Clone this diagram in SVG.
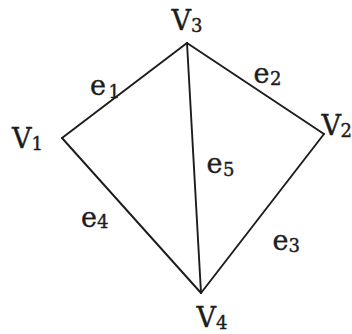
<svg xmlns="http://www.w3.org/2000/svg" width="352" height="334" viewBox="0 0 352 334">
  <style>
    .edge { stroke: #1c1c1c; stroke-width: 1.9; fill: none; stroke-linecap: round; }
    .lbl { font-family: "DejaVu Serif", "Liberation Serif", serif; font-size: 27px; fill: #1c1c1c; stroke: #1c1c1c; stroke-width: 0.4; }
    .sub { font-size: 18px; }
  </style>
  <rect width="352" height="334" fill="#ffffff"/>
  <g id="connectors">
    <g id="e1">
      <line class="edge" x1="187" y1="43" x2="62" y2="138"/>
      <text class="lbl" x="90" y="95">e<tspan class="sub" x="108.5" y="97.5">1</tspan></text>
    </g>
    <g id="e2">
      <line class="edge" x1="187" y1="43" x2="324" y2="134"/>
      <text class="lbl" x="253.5" y="83">e<tspan class="sub" x="270" y="84.5">2</tspan></text>
    </g>
    <g id="e3">
      <line class="edge" x1="324" y1="134" x2="201" y2="293"/>
      <text class="lbl" x="272.5" y="250">e<tspan class="sub" x="288.5" y="251.5">3</tspan></text>
    </g>
    <g id="e4">
      <line class="edge" x1="62" y1="138" x2="201" y2="293"/>
      <text class="lbl" x="81" y="226.5">e<tspan class="sub" x="97" y="227.5">4</tspan></text>
    </g>
    <g id="e5">
      <line class="edge" x1="187" y1="43" x2="201" y2="293"/>
      <text class="lbl" x="206.5" y="173">e<tspan class="sub" x="223" y="176">5</tspan></text>
    </g>
  </g>
  <g id="V1">
    <text class="lbl" x="12" y="148">V<tspan class="sub" x="31.5" y="149.5">1</tspan></text>
  </g>
  <g id="V2">
    <text class="lbl" x="321.5" y="135">V<tspan class="sub" x="340.5" y="137">2</tspan></text>
  </g>
  <g id="V3">
    <text class="lbl" x="171.5" y="29.5">V<tspan class="sub" x="191" y="32">3</tspan></text>
  </g>
  <g id="V4">
    <text class="lbl" x="196.5" y="327">V<tspan class="sub" x="216" y="329">4</tspan></text>
  </g>
</svg>
